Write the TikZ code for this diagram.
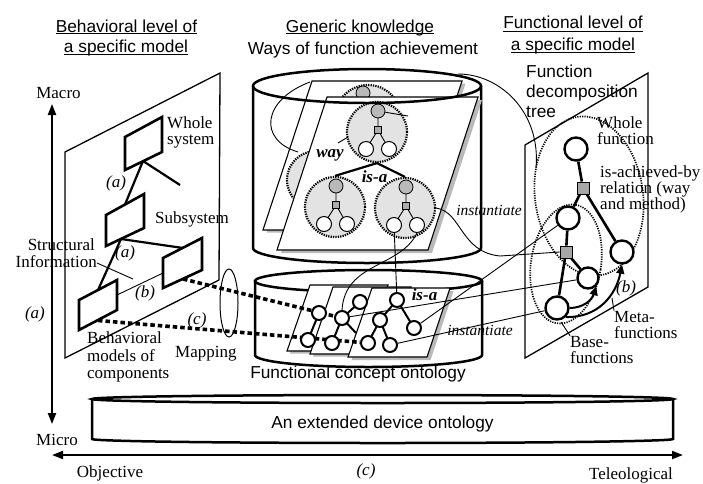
\documentclass[tikz,border=0pt]{standalone}
\usepackage{fontspec}
\setmainfont{Liberation Serif}
\newfontfamily\sansf{Liberation Sans}
\usetikzlibrary{arrows.meta}
\pgfdeclarelayer{fg}
\pgfsetlayers{main,fg}
\newcommand\mywaytree[2]{%
 \begin{scope}[shift={#2}]
  \node[dotc] (#1c) at (0,0) {};
  \draw[thn] (1,-21) -- (1,-2) -- (-11,17) (1,-2) -- (12,17);
  \node[gnd] (#1g) at (1,-21) {};
  \node[sqs] (#1s) at (1,-2) {};
  \node[wnd] (#1l) at (-11,17) {};
  \node[wnd] (#1r) at (12,17) {};
 \end{scope}}
\begin{document}
\begin{tikzpicture}[x=1pt,y=-1pt,
 thk/.style={line width=2.6pt},
 thn/.style={line width=0.9pt},
 pln/.style={line width=1.3pt},
 cyl/.style={line width=2.5pt},
 lab/.style={font=\fontsize{17}{16.5}\selectfont, inner sep=0pt},
 ilab/.style={font=\fontsize{17}{16.5}\selectfont\itshape, inner sep=0pt},
 slab/.style={font=\fontsize{15.5}{16}\selectfont\itshape, inner sep=0pt},
 blab/.style={font=\fontsize{17}{16}\selectfont\bfseries\itshape, inner sep=0pt},
 hdr/.style={font=\sansf\fontsize{17.3}{20}\selectfont, inner sep=0pt},
 dotc/.style={circle, draw, line width=2.2pt, dash pattern=on 1.3pt off 1.1pt, fill=gray!22, minimum size=60pt, inner sep=0pt},
 gnd/.style={circle, draw, line width=0.8pt, fill=gray!55, minimum size=14pt, inner sep=0pt},
 wnd/.style={circle, draw, line width=1pt, fill=white, minimum size=15pt, inner sep=0pt},
 sqs/.style={rectangle, draw, line width=0.7pt, fill=gray!65, minimum size=7.5pt, inner sep=0pt},
 fnd/.style={circle, draw, line width=2.4pt, fill=white, minimum size=23pt, inner sep=0pt},
 fsq/.style={rectangle, draw, line width=0.8pt, fill=gray!70, minimum size=12pt, inner sep=0pt},
 cnd/.style={circle, draw, line width=2pt, fill=white, minimum size=14pt, inner sep=0pt},
 sht/.style={draw, line width=1.1pt, fill=white},
 shd/.style={fill=gray!55},
 mapl/.style={line width=3.6pt, dash pattern=on 4.5pt off 3pt},
 dotl/.style={line width=1.7pt, dash pattern=on 1.2pt off 1.2pt},
 arrtip/.style={-{Triangle[length=9pt,width=8pt]}},
 axarr/.style={line width=2pt,{Triangle[length=11pt,width=8pt]}-{Triangle[length=11pt,width=8pt]}}
]
\useasboundingbox (0,0) rectangle (703,483);

% ---------- headers ----------
\node[hdr, anchor=base] (h1a) at (126.5,32) {Behavioral level of};
\draw[line width=0.9pt] ([yshift=-1.5pt]h1a.base west) -- ([yshift=-1.5pt]h1a.base east);
\node[hdr, anchor=base] (h1b) at (126,52) {a specific model};
\draw[line width=0.9pt] ([yshift=-2pt]h1b.base west) -- ([yshift=-2pt]h1b.base east);
\node[hdr, anchor=base] (h2a) at (360,32) {Generic knowledge};
\draw[line width=0.9pt] ([yshift=-1.5pt]h2a.base west) -- ([yshift=-1.5pt]h2a.base east);
\node[hdr, anchor=base] (h2b) at (363,54) {Ways of function achievement};
\node[hdr, anchor=base] (h3a) at (573,28) {Functional level of};
\draw[line width=0.9pt] ([yshift=-3pt]h3a.base west) -- ([yshift=-3pt]h3a.base east);
\node[hdr, anchor=base] (h3b) at (573,50) {a specific model};
\draw[line width=0.9pt] ([yshift=-2pt]h3b.base west) -- ([yshift=-2pt]h3b.base east);
\node[hdr, anchor=base west] (fdt1) at (526,77) {Function};
\node[hdr, anchor=base west] (fdt2) at (526,97) {decomposition};
\node[hdr, anchor=base west] (fdt3) at (526,117) {tree};

% ---------- axes ----------
\coordinate (ytop) at (52,104);
\coordinate (ybot) at (52,424);
\coordinate (xl) at (52,455);
\coordinate (xr) at (683,455);
\draw[axarr] (ybot) -- (ytop);
\draw[axarr] (xl) -- (xr);
\node[lab, anchor=base] (macro) at (58.5,98) {Macro};
\node[lab, anchor=base] (micro) at (57,445) {Micro};
\node[ilab] (axa) at (35,314) {(a)};
\node[lab, anchor=base] (objv) at (110,477) {Objective};
\node[ilab] (axc) at (366,471) {(c)};
\node[lab, anchor=base] (teleo) at (631,479) {Teleological};

% ---------- left plane ----------
\draw[pln] (65,152) -- (220,73) -- (219,280) -- (65,358) -- cycle;
\draw[thk] (125,137) -- (162,117) -- (162,152) -- (125,170) -- cycle;
\draw[thk] (106,215) -- (144,194) -- (144,228) -- (106,246) -- cycle;
\draw[thk] (163,258) -- (202,238) -- (202,270) -- (163,288) -- cycle;
\draw[thk] (79,300) -- (117,280) -- (117,310) -- (79,330) -- cycle;
\coordinate (wb) at (143,161);
\coordinate (wend) at (180,185);
\coordinate (st) at (125,204.5);
\coordinate (sb) at (121,239);
\coordinate (rt) at (183,248);
\coordinate (lt) at (98,290);
\coordinate (lr) at (117,295);
\coordinate (rl) at (163,273);
\coordinate (rb) at (183,279);
\coordinate (lb) at (98,320.5);
\draw[line width=2.2pt] (wb) -- (st) (wb) -- (wend) (sb) -- (rt) (sb) -- (lt);
\draw[thn] (lr) -- (rl);
\node[lab, anchor=base west] (ws1) at (167,128) {Whole};
\node[lab, anchor=base west] (ws2) at (167,144) {system};
\node[ilab] (la1) at (116,183) {(a)};
\node[lab, anchor=base west] (subs) at (155,223) {Subsystem};
\node[lab, anchor=base east] (si1) at (95,250) {Structural};
\node[lab, anchor=base east] (si2) at (97,267) {Information};
\coordinate (silead) at (133,279);
\draw[thn] (si2.base east) ++(0,-4) -- (silead);
\node[ilab] (la2) at (125,253) {(a)};
\node[ilab] (lb2) at (145,293) {(b)};
\node[ilab] (lc2) at (197,320) {(c)};
\node[lab, anchor=base west] (bm1) at (87,343) {Behavioral};
\node[lab, anchor=base west] (bm2) at (87,361) {models of};
\node[lab, anchor=base west] (bm3) at (87,378) {components};
\node[lab, anchor=base west] (mapg) at (175,357) {Mapping};
\draw[line width=1pt] (229,303) ellipse[x radius=9pt,y radius=34pt];

% ---------- upper cylinder ----------
\draw[cyl] (253,86) -- (253,248) arc[start angle=180,end angle=360,x radius=114pt,y radius=15pt] -- (481,86);
\fill[shd, shift={(3.5,2.5)}] (312,81) -- (462,81) -- (413,230) -- (263,230) -- cycle;
\draw[sht] (312,81) -- (462,81) -- (413,230) -- (263,230) -- cycle;
\node[dotc, minimum size=66pt] (C0c) at (368,118) {};
\node[gnd] (C0g) at (363,93) {};
\node[dotc, minimum size=58pt] (C4c) at (316,180) {};
\draw[thn] (310,82) .. controls (262,100) and (258,140) .. (298,152);
\fill[shd, shift={(4,3)}] (327,97) -- (478,97) -- (428,250) -- (277,250) -- cycle;
\draw[sht] (327,97) -- (478,97) -- (428,250) -- (277,250) -- cycle;
\mywaytree{C1}{(377,132)}
\mywaytree{C2}{(335,207)}
\mywaytree{C3}{(405,208)}
\draw[thn] (C1g) -- (408,116);
\draw[line width=2.2pt] (C1c.south) -- (C2c.north) (C1c.south) -- (C3c.north);
\node[blab, anchor=base] (way) at (330,157) {way};
\draw[thn] (338,143) -- (348,137);
\node[blab, anchor=base] (isa1) at (374.5,182) {is-a};
\draw[cyl] (367,86) ellipse[x radius=114pt,y radius=17pt];

% ---------- lower cylinder ----------
\draw[cyl] (255,281) -- (255,355) arc[start angle=180,end angle=360,x radius=113.5pt,y radius=12pt] -- (482,281);
\draw[cyl] (368.5,281) ellipse[x radius=113.5pt,y radius=11pt];
\fill[shd, shift={(3,2.5)}] (287,351) -- (310,285) -- (388,285) -- (365,351) -- cycle;
\draw[sht] (287,351) -- (310,285) -- (388,285) -- (365,351) -- cycle;
\fill[shd, shift={(3,2.5)}] (310,354) -- (333,287) -- (411,287) -- (388,354) -- cycle;
\draw[sht] (310,354) -- (333,287) -- (411,287) -- (388,354) -- cycle;
\fill[shd, shift={(3.5,3)}] (348,357) -- (372,288) -- (450,288) -- (427,357) -- cycle;
\draw[sht] (348,357) -- (372,288) -- (450,288) -- (427,357) -- cycle;
\begin{pgfonlayer}{fg}
\draw[line width=2pt] (319,313) -- (308,340);
\draw[line width=2pt] (342,318) -- (360,302) (342,318) -- (332,343) (342,318) -- (356,333);
\draw[line width=2pt] (397,300) -- (380,320) (397,300) -- (414,328) (380,320) -- (368,343) (380,320) -- (390,345);
\node[cnd] (s1a) at (319,313) {};
\node[cnd] (s1b) at (308,340) {};
\node[cnd] (n2t) at (360,302) {};
\node[cnd] (n2m) at (342,318) {};
\node[cnd] (n2bl) at (332,343) {};
\node[cnd] (n3t) at (397,300) {};
\node[cnd] (n3m) at (380,320) {};
\node[cnd] (n3r) at (414,328) {};
\node[cnd] (n3bl) at (368,343) {};
\node[cnd] (n3br) at (390,345) {};
\end{pgfonlayer}
\node[blab, anchor=base] (isa2) at (424.5,300) {is-a};
\node[hdr, anchor=base] (fco) at (358,378) {Functional concept ontology};
\draw[thn] (C3l) -- (n3t);
\draw[thn] (C3r.south) .. controls (400,268) and (345,262) .. (n2m.north);

% mapping lines
\draw[mapl] (rb) -- (n2m);
\draw[mapl] (lb) -- (n3bl);

% ---------- extended device ontology ----------
\draw[cyl] (382.5,399) ellipse[x radius=290.5pt,y radius=4pt];
\draw[cyl] (92,399) -- (92,439) arc[start angle=180,end angle=360,x radius=290.5pt,y radius=4pt] -- (673,399);
\node[hdr, anchor=base] (edo) at (382.5,428) {An extended device ontology};

% ---------- right plane ----------
\draw[pln] (525,145) -- (648,73) -- (648,287) -- (525,358) -- cycle;
\draw[dotl, rotate around={8:(589,196)}] (589,196) ellipse[x radius=54pt,y radius=80pt];
\draw[dotl, rotate around={-9:(566,264)}] (566,264) ellipse[x radius=35pt,y radius=60pt];
\node[fnd] (W) at (576,149) {};
\node[fsq] (Q1) at (583,188) {};
\node[fnd] (L) at (568,218) {};
\node[fnd] (R) at (622,252) {};
\node[fsq] (Q2) at (566,252) {};
\node[fnd, minimum size=21pt] (M) at (588,278) {};
\node[fnd] (B) at (557,308) {};
\draw[thk] (W) -- (Q1) (Q1) -- (L) (Q1) -- (R) (L) -- (Q2) (Q2) -- (B) (Q2) -- (M);
\draw[line width=2pt, arrtip] (B.east) .. controls (583,308) and (592,300) .. (M.south east);
\draw[line width=2pt, arrtip] (B.south east) .. controls (598,318) and (616,295) .. (R.south);
\node[lab, anchor=base west] (wf1) at (597,128) {Whole};
\node[lab, anchor=base west] (wf2) at (597,144) {function};
\node[lab, anchor=base west] (iab1) at (600,177) {is-achieved-by};
\node[lab, anchor=base west] (iab2) at (600,193) {relation (way};
\node[lab, anchor=base west] (iab3) at (600,209) {and method)};
\node[lab, anchor=base west] (mf1) at (614,322) {Meta-};
\node[lab, anchor=base west] (mf2) at (614,338) {functions};
\node[lab, anchor=base west] (bf1) at (570,347) {Base-};
\node[lab, anchor=base west] (bf2) at (570,363) {functions};
\node[ilab] (rb3) at (626,288) {(b)};
\coordinate (mlead) at (612,298);
\coordinate (blead) at (561,322);
\draw[thn] (mlead) -- (mf1.north west);
\draw[thn] (blead) -- (bf1.north west);

% ---------- instantiate links ----------
\coordinate (arcS) at (458,74);
\draw[thn] (arcS) .. controls (500,74) and (541,112) .. (536,168);
\draw[thn] (C3c.east) .. controls (462,212) and (460,252) .. (500,256) -- (Q2.west);
\node[slab, anchor=base] (inst1) at (489,215) {instantiate};
\draw[thn] (n2m) -- (M);
\draw[thn] (n3r) -- (L);
\draw[thn] (n3br) -- (B);
\node[slab, anchor=base] (inst2) at (480,335) {instantiate};
\end{tikzpicture}
\end{document}
